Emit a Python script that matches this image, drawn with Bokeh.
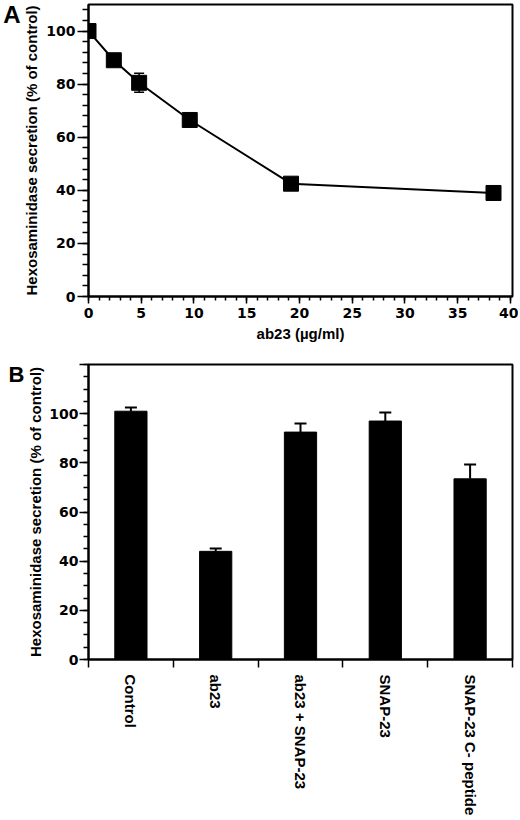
import numpy as np
from bokeh.plotting import figure
from bokeh.layouts import column
from bokeh.models import (ColumnDataSource, Whisker, TeeHead, FixedTicker, Range1d,
                          LinearAxis)
from bokeh.embed import file_html
from bokeh.resources import INLINE

# panel A: secretion vs ab23 concentration
ab23_conc = [0, 2.4, 4.8, 9.6, 19.2, 38.4]
secretion_a = [100, 89, 80.5, 66.5, 42.5, 39]
error_a = [1, 2, 3.6, 1, 1, 1]

# panel B: secretion per treatment
categories = ["Control", "ab23", "ab23 + SNAP-23", "SNAP-23", "SNAP-23 C- peptide"]
secretion_b = [101, 44, 92.5, 97, 73.5]
error_b = [1.5, 1.2, 3.5, 3.5, 5.8]

NUM_FONT = "DejaVu Sans"
TXT_FONT = "Liberation Sans"
YLABEL = "Hexosaminidase secretion (% of control)"


def style(p):
    p.grid.visible = False
    p.outline_line_color = "black"
    p.outline_line_width = 2
    p.outline_line_alpha = 1
    for ax in p.axis:
        ax.axis_line_width = 2
        ax.major_tick_line_width = 1.5
        ax.minor_tick_line_width = 1.5
        ax.major_tick_in = 0
        ax.minor_tick_in = 0
        ax.major_label_text_font = NUM_FONT
        ax.major_label_text_font_style = "bold"
        ax.major_label_text_font_size = "14px"
        ax.major_label_text_color = "black"
        ax.axis_label_text_font = TXT_FONT
        ax.axis_label_text_font_style = "bold"
        ax.axis_label_text_font_size = "15px"
        ax.axis_label_text_color = "black"


def panel_letter(p, letter, y, size):
    # bare axis on the far left that only carries the panel letter
    ax = LinearAxis(ticker=FixedTicker(ticks=[y], minor_ticks=[]),
                    major_label_overrides={y: letter})
    ax.axis_line_color = None
    ax.major_tick_line_color = None
    ax.minor_tick_line_color = None
    ax.major_tick_in = 0
    ax.major_tick_out = 0
    ax.major_label_standoff = 0
    ax.major_label_text_font = TXT_FONT
    ax.major_label_text_font_style = "bold"
    ax.major_label_text_font_size = size
    ax.major_label_text_color = "black"
    p.add_layout(ax, "left")


# ---- panel A
pa = figure(width=518, height=350, x_range=Range1d(0, 40.2), y_range=Range1d(0, 110),
            output_backend="svg", toolbar_location=None,
            min_border_left=88, min_border_right=3, min_border_top=4, min_border_bottom=54)
style(pa)
pa.xaxis.ticker = FixedTicker(ticks=list(range(0, 41, 5)), minor_ticks=list(range(0, 41)))
pa.yaxis.ticker = FixedTicker(ticks=list(range(0, 101, 20)), minor_ticks=list(range(0, 111, 4)))
pa.xaxis.major_tick_out = 7
pa.xaxis.minor_tick_out = 4
pa.yaxis.major_tick_out = 11
pa.yaxis.minor_tick_out = 6
pa.xaxis.axis_label = "ab23 (µg/ml)"
pa.yaxis.axis_label = YLABEL
pa.xaxis.major_label_standoff = 4
pa.xaxis.axis_label_standoff = 4
pa.yaxis.major_label_standoff = 2
pa.yaxis.axis_label_standoff = 3
panel_letter(pa, "A", 106.6, "24px")

src_a = ColumnDataSource(dict(
    x=ab23_conc, y=secretion_a,
    lo=[v - e for v, e in zip(secretion_a, error_a)],
    hi=[v + e for v, e in zip(secretion_a, error_a)],
))
pa.line("x", "y", source=src_a, line_color="black", line_width=2)
pa.add_layout(Whisker(source=src_a, base="x", lower="lo", upper="hi",
                      line_color="black", line_width=1.5,
                      lower_head=TeeHead(size=10, line_width=1.5, line_color="black"),
                      upper_head=TeeHead(size=10, line_width=1.5, line_color="black")))
pa.scatter("x", "y", source=src_a, marker="square", size=15, fill_color="black", line_color="black")

# ---- panel B
xs = [i + 0.5 for i in range(len(categories))]
pb = figure(width=518, height=468, x_range=Range1d(0, len(categories)), y_range=Range1d(0, 120),
            output_backend="svg", toolbar_location=None,
            min_border_left=77, min_border_right=6, min_border_top=14, min_border_bottom=152)
style(pb)
pb.xaxis.ticker = FixedTicker(ticks=xs, minor_ticks=list(range(len(categories) + 1)))
pb.xaxis.major_label_overrides = {x: c for x, c in zip(xs, categories)}
pb.xaxis.major_label_orientation = "vertical"
pb.xaxis.major_tick_out = 0
pb.xaxis.minor_tick_out = 8
pb.xaxis.major_label_text_font = TXT_FONT
pb.xaxis.major_label_text_font_size = "15px"
pb.xaxis.major_label_standoff = 7
pb.yaxis.ticker = FixedTicker(ticks=list(range(0, 121, 20)), minor_ticks=list(range(0, 121, 5)))
pb.yaxis.major_label_overrides = {120: ""}
pb.yaxis.major_tick_out = 9
pb.yaxis.minor_tick_out = 5
pb.yaxis.major_label_standoff = 1
pb.yaxis.axis_label = YLABEL
pb.yaxis.axis_label_standoff = 2
panel_letter(pb, "B", 115.9, "22px")

src_b = ColumnDataSource(dict(
    x=xs, top=secretion_b,
    hi=[v + e for v, e in zip(secretion_b, error_b)],
))
pb.vbar(x="x", top="top", source=src_b, width=0.38, fill_color="black", line_color="black")
pb.add_layout(Whisker(source=src_b, base="x", lower="top", upper="hi",
                      line_color="black", line_width=2, lower_head=None,
                      upper_head=TeeHead(size=12, line_width=2, line_color="black")))

layout = column(pa, pb, spacing=0)
open("out.html", "w").write(file_html(layout, INLINE))
